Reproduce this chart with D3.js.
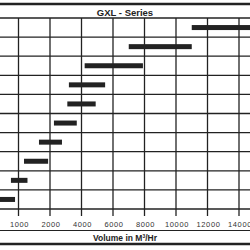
<!DOCTYPE html>
<html>
<head>
<meta charset="utf-8">
<script src="https://cdn.jsdelivr.net/npm/d3@7"></script>
<style>
  body { margin: 0; background: #fff; }
  svg { display: block; font-family: "Liberation Sans", Arial, sans-serif; }
</style>
</head>
<body>
<div id="chart"></div>
<script>
// GXL series operating ranges (volume in m3/hr), top row first
const rows = ["1", "2", "3", "4", "5", "6", "7", "8", "9", "10"];
const rangeStart = [11000, 7000, 4200, 3200, 3100, 2250, 1650, 1175, 760, 300];
const rangeEnd = [15000, 11000, 7900, 5500, 4900, 3700, 2760, 1940, 1285, 890];
const tickValues = [1000, 2000, 4000, 6000, 8000, 10000, 12000, 14000];
// break points of the uneven axis (equal spacing between them)
const axisSteps = [0, 1000, 2000, 4000, 6000, 8000, 10000, 12000, 14000, 16000];

const width = 250;
const height = 250;
const gridTop = 18;
const gridBottom = 209;
const step = 31.5;
const firstTick = 18.5;

const svg = d3.select("#chart")
  .append("svg")
  .attr("width", width)
  .attr("height", height);

// uneven x scale: each break point gets the same horizontal spacing
const x = d3.scaleLinear()
  .domain(axisSteps)
  .range(axisSteps.map((d, i) => firstTick + (i - 1) * step));

const y = d3.scaleBand()
  .domain(rows)
  .range([gridTop, gridBottom]);

const ink = "#222";

// top border and title
svg.append("line")
  .attr("x1", 0).attr("x2", width)
  .attr("y1", 4).attr("y2", 4)
  .attr("stroke", ink).attr("stroke-width", 2.5);

svg.append("text")
  .attr("x", 125)
  .attr("y", 15.5)
  .attr("text-anchor", "middle")
  .attr("font-size", 9.5)
  .attr("font-weight", "bold")
  .attr("fill", ink)
  .text("GXL - Series");

// horizontal grid (band edges)
const hLines = rows.map(r => y(r)).concat([gridBottom]);
svg.append("g")
  .selectAll("line")
  .data(hLines)
  .join("line")
  .attr("x1", 0).attr("x2", width)
  .attr("y1", d => d).attr("y2", d => d)
  .attr("stroke", ink)
  .attr("stroke-width", 1.3);

// vertical grid, running a little past the bottom as ticks
svg.append("g")
  .selectAll("line")
  .data(tickValues)
  .join("line")
  .attr("x1", d => x(d)).attr("x2", d => x(d))
  .attr("y1", gridTop).attr("y2", gridBottom + 7)
  .attr("stroke", ink)
  .attr("stroke-width", 1.3);

// bars
svg.append("g")
  .selectAll("rect")
  .data(rows)
  .join("rect")
  .attr("x", (d, i) => x(rangeStart[i]))
  .attr("width", (d, i) => x(rangeEnd[i]) - x(rangeStart[i]))
  .attr("y", d => y(d) + y.bandwidth() / 2 - 2.5)
  .attr("height", 5)
  .attr("fill", ink);

// tick labels
svg.append("g")
  .selectAll("text")
  .data(tickValues)
  .join("text")
  .attr("x", d => x(d) + 1)
  .attr("y", 227)
  .attr("text-anchor", "middle")
  .attr("font-size", 7.5)
  .attr("letter-spacing", 0.6)
  .attr("fill", "#333")
  .text(d => d);

svg.append("line")
  .attr("x1", 0).attr("x2", width)
  .attr("y1", 230.5).attr("y2", 230.5)
  .attr("stroke", ink).attr("stroke-width", 1);

// axis title
const title = svg.append("text")
  .attr("x", 125)
  .attr("y", 240.5)
  .attr("text-anchor", "middle")
  .attr("font-size", 8.5)
  .attr("font-weight", "bold")
  .attr("fill", ink);
title.append("tspan").text("Volume in M");
title.append("tspan").attr("font-size", 5).attr("dy", -3).text("3");
title.append("tspan").attr("dy", 3).text("/Hr");

// bottom border
svg.append("line")
  .attr("x1", 0).attr("x2", width)
  .attr("y1", 244).attr("y2", 244)
  .attr("stroke", ink).attr("stroke-width", 2.5);
</script>
</body>
</html>
